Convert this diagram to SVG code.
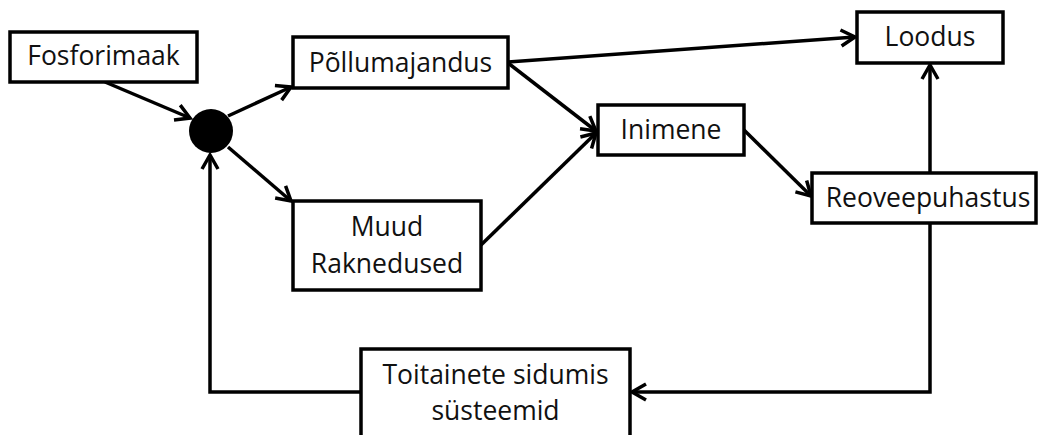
<svg xmlns="http://www.w3.org/2000/svg" width="1039" height="435" viewBox="0 0 1039 435">
<style>
.box{fill:#fff;stroke:#000;stroke-width:3.5}
.lbl{font-family:"Open Sans","Liberation Sans",sans-serif;font-size:26.5px;fill:#111;text-anchor:middle}
.con{fill:none;stroke:#000;stroke-width:3.5;marker-end:url(#arr)}
</style>
<defs>
<marker id="arr" markerUnits="userSpaceOnUse" markerWidth="24" markerHeight="24" viewBox="-20 -12 24 24" refX="0" refY="0" orient="auto">
<path d="M-14,-8 L0,0 L-14,8" fill="none" stroke="#000" stroke-width="3.5" stroke-linejoin="miter"/>
</marker>
</defs>
<rect width="1039" height="435" fill="#fff"/>
<g id="connectors">
<line class="con" x1="105" y1="82" x2="190" y2="118"/>
<line class="con" x1="228" y1="116" x2="291" y2="87"/>
<line class="con" x1="228" y1="147" x2="291" y2="201"/>
<line class="con" x1="508" y1="62" x2="855" y2="37"/>
<line class="con" x1="508" y1="63" x2="596" y2="131"/>
<line class="con" x1="481" y1="245" x2="596" y2="133"/>
<line class="con" x1="744" y1="130" x2="811" y2="196"/>
<line class="con" x1="930" y1="173" x2="930" y2="65"/>
<polyline class="con" points="930,223 930,392 632,392"/>
<polyline class="con" points="361,392 210,392 210,155"/>
</g>
<g id="fosforimaak"><rect class="box" x="10" y="32" width="187" height="50"/><text class="lbl" x="103.5" y="65">Fosforimaak</text></g>
<g id="junction"><circle cx="211" cy="131" r="22" fill="#000"/></g>
<g id="pollumajandus"><rect class="box" x="293" y="37" width="215" height="51"/><text class="lbl" x="400.5" y="72">Põllumajandus</text></g>
<g id="loodus"><rect class="box" x="857" y="12" width="146" height="51"/><text class="lbl" x="930" y="46">Loodus</text></g>
<g id="inimene"><rect class="box" x="598" y="105" width="146" height="50"/><text class="lbl" x="671" y="139">Inimene</text></g>
<g id="reoveepuhastus"><rect class="box" x="812" y="173" width="224" height="50"/><text class="lbl" x="928" y="207">Reoveepuhastus</text></g>
<g id="muud"><rect class="box" x="293" y="201" width="188" height="89"/><text class="lbl" x="387" y="236">Muud</text><text class="lbl" x="387" y="273">Raknedused</text></g>
<g id="toitainete"><rect class="box" x="361" y="349" width="269" height="100"/><text class="lbl" x="495.5" y="384">Toitainete sidumis</text><text class="lbl" x="495.5" y="420">süsteemid</text></g>
</svg>
